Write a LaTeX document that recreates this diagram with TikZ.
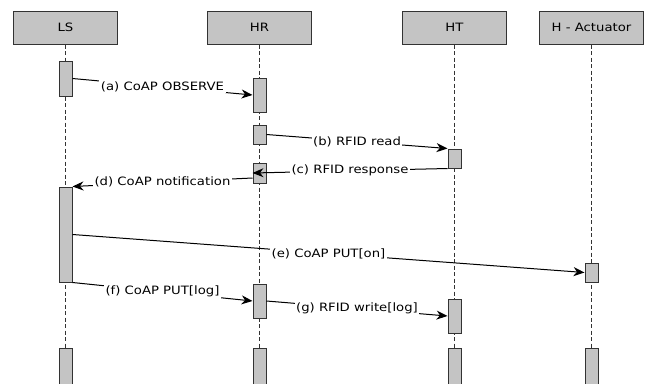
\documentclass[tikz,border=0pt]{standalone}
\usepackage{fontspec}
\setmainfont[FakeStretch=1.15]{DejaVu Sans}
\usepackage{tikz}
\usetikzlibrary{arrows.meta, positioning, calc}
\definecolor{mGray}{HTML}{C4C4C4}
\definecolor{mEdge}{HTML}{333333}

\tikzset{
  head/.style={draw=mEdge, fill=mGray, line width=1pt, minimum width=104pt, minimum height=33pt, font=\fontsize{11.5}{13}\selectfont},
  bar/.style={draw=mEdge, fill=mGray, line width=1pt, minimum width=13pt, inner sep=0pt},
  life/.style={mEdge, line width=0.8pt, dash pattern=on 4pt off 2.5pt},
  msg/.style={-{Stealth[length=11pt, width=9pt, inset=3.5pt]}, line width=1pt},
  lbl/.style={midway, fill=white, inner sep=1.5pt, font=\fontsize{11.5}{13}\selectfont}
}

\begin{document}
\begin{tikzpicture}[x=1pt, y=-1pt]
    \useasboundingbox (0,0) rectangle (650,383);
    % headers
    \foreach \nm/\lbl/\x in {ls/LS/65.5, hr/HR/259.5, ht/HT/454.5, act/H - Actuator/591.5} {
      \node[head] (\nm) at (\x,27.5) {\lbl};
      \node[bar, minimum height=42pt] (\nm End) at (\x,369) {};
    }
    % lifelines
    \foreach \nm in {ls, hr, ht, act} {
      \draw[life] (\nm.south) -- (\nm End.north);
    }
    % activations
    \foreach \nm/\x/\y/\h in {lsA/65.5/78.5/35, hrA/259.5/95/34, hrB/259.5/134.5/19, hrC/259.5/173/20,
        htB/454.5/158.5/19, lsD/65.5/234.5/95, actE/591.5/272.5/19, hrF/259.5/301/34, htG/454.5/316/34} {
      \node[bar, minimum height=\h pt] (\nm) at (\x,\y) {};
    }
    % messages
    \draw[msg] (lsA.east) -- node[lbl] {(a) CoAP OBSERVE} (hrA.west);
    \draw[msg] (hrB.east) -- node[lbl] {(b) RFID read} (htB.north west);
    \draw[msg] (htB.south west) -- node[lbl] {(c) RFID response} (hrC.west);
    \draw[msg] ([yshift=-5pt]hrC.west) -- node[lbl] {(d) CoAP notification} (lsD.north east);
    \draw[msg] (lsD.east) -- node[lbl] {(e) CoAP PUT[on]} (actE.west);
    \draw[msg] (lsD.south east) -- node[lbl] {(f) CoAP PUT[log]} (hrF.west);
    \draw[msg] (hrF.east) -- node[lbl] {(g) RFID write[log]} (htG.west);
  \end{tikzpicture}
\end{document}
